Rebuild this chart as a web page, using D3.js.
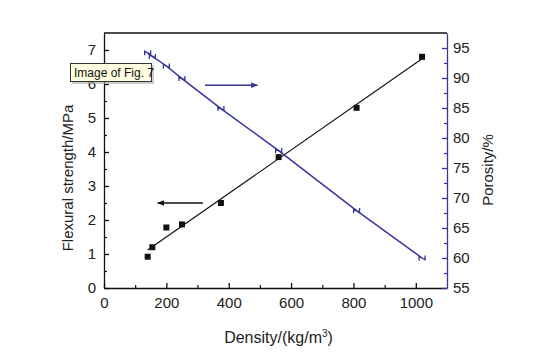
<!DOCTYPE html>
<html><head><meta charset="utf-8">
<script src="https://cdn.jsdelivr.net/npm/d3@7"></script>
<style>body{margin:0;background:#fff}svg{display:block;font-family:Arial,"Liberation Sans",sans-serif}</style>
</head><body><div id="chart"></div>
<script>
const density = [140, 155, 200, 250, 375, 560, 810, 1020];
const flexural = [0.92, 1.2, 1.78, 1.87, 2.5, 3.85, 5.3, 6.8];
const porosity = [94.2, 93.6, 92.0, 89.9, 84.9, 77.9, 67.9, 60.0];
const xTicks = [0, 200, 400, 600, 800, 1000];
const leftTicks = [0, 1, 2, 3, 4, 5, 6, 7];
const rightTicks = [55, 60, 65, 70, 75, 80, 85, 90, 95];

const W = 537, H = 355;
const m = {l: 104, r: 90, t: 33, b: 67};
const svg = d3.select("#chart").append("svg").attr("width", W).attr("height", H);
const x = d3.scaleLinear().domain([0, 1100]).range([m.l, W - m.r]);
const yL = d3.scaleLinear().domain([0, 7.5]).range([H - m.b, m.t]);
const yR = d3.scaleLinear().domain([55, 97.5]).range([H - m.b, m.t]);
const blue = "#35359a";

// frame top
svg.append("line").attr("x1", x(0)).attr("x2", x(1100)).attr("y1", m.t).attr("y2", m.t).attr("stroke", "#111").attr("stroke-width", 1.3);

function styleAxis(g, col) {
  g.selectAll("text").attr("fill", "#222").style("font-size", "15px");
  g.select(".domain").attr("stroke", col).attr("stroke-width", 1.3);
  g.selectAll(".tick line").attr("stroke", col).attr("stroke-width", 1.3);
}
function minor(axisFn, scale, vals, pos, col) {
  svg.append("g").attr("transform", pos).call(axisFn(scale).tickValues(vals).tickSize(-3).tickFormat(""))
    .call(g => { g.select(".domain").remove(); g.selectAll("line").attr("stroke", col).attr("stroke-width", 1.2); });
}
const bx = `translate(0,${H - m.b})`;
minor(d3.axisBottom, x, d3.range(100, 1100, 200), bx, "#111");
minor(d3.axisLeft, yL, d3.range(0.5, 7.5, 1), `translate(${m.l},0)`, "#111");
minor(d3.axisRight, yR, d3.range(57.5, 97.5, 5), `translate(${W - m.r},0)`, blue);

svg.append("g").attr("transform", bx)
  .call(d3.axisBottom(x).tickValues(xTicks).tickFormat(d3.format("d")).tickSize(-5).tickPadding(9).tickSizeOuter(0))
  .call(g => styleAxis(g, "#111"));
svg.append("g").attr("transform", `translate(${m.l},0)`)
  .call(d3.axisLeft(yL).tickValues(leftTicks).tickSize(-5).tickPadding(8).tickSizeOuter(0))
  .call(g => styleAxis(g, "#111"));
svg.append("g").attr("transform", `translate(${W - m.r},0)`)
  .call(d3.axisRight(yR).tickValues(rightTicks).tickSize(-5).tickPadding(6).tickSizeOuter(0))
  .call(g => styleAxis(g, blue));

// linear fit for flexural strength
const n = density.length;
const mx = d3.mean(density), my = d3.mean(flexural);
const slope = d3.sum(density, (d, i) => (d - mx) * (flexural[i] - my)) / d3.sum(density, d => (d - mx) ** 2);
const icpt = my - slope * mx;
const fitX = [density[0], density[n - 1]];
svg.append("path").attr("d", d3.line()(fitX.map(d => [x(d), yL(icpt + slope * d)])))
  .attr("stroke", "#111").attr("stroke-width", 1.2).attr("fill", "none");
svg.append("g").selectAll("rect").data(density).join("rect")
  .attr("x", d => x(d) - 3).attr("y", (d, i) => yL(flexural[i]) - 3)
  .attr("width", 6).attr("height", 6).attr("fill", "#111");

// porosity line
svg.append("path").attr("d", d3.line()(density.map((d, i) => [x(d), yR(porosity[i])])))
  .attr("stroke", blue).attr("stroke-width", 1.5).attr("fill", "none");
svg.append("g").selectAll("path").data(density).join("path")
  .attr("d", (d, i) => { const cx = x(d), cy = yR(porosity[i]);
    return `M${cx-3},${cy-2.5}L${cx-3},${cy+2.5}M${cx+3},${cy-2.5}L${cx+3},${cy+2.5}M${cx-3},${cy-1.5}L${cx+3},${cy+1.5}`; })
  .attr("stroke", blue).attr("stroke-width", 1.3).attr("fill", "none");

// arrows
const defs = svg.append("defs");
[["ab", "#111"], ["ar", blue]].forEach(([id, c]) => {
  defs.append("marker").attr("id", id).attr("viewBox", "0 0 10 10").attr("refX", 9).attr("refY", 5)
    .attr("markerWidth", 7).attr("markerHeight", 7).attr("markerUnits", "userSpaceOnUse").attr("orient", "auto")
    .append("path").attr("d", "M0,1L10,5L0,9Z").attr("fill", c);
});
svg.append("line").attr("x1", x(317)).attr("x2", x(172)).attr("y1", yL(2.5)).attr("y2", yL(2.5))
  .attr("stroke", "#111").attr("stroke-width", 1.4).attr("marker-end", "url(#ab)");
svg.append("line").attr("x1", x(324)).attr("x2", x(492)).attr("y1", yR(88.8)).attr("y2", yR(88.8))
  .attr("stroke", blue).attr("stroke-width", 1.4).attr("marker-end", "url(#ar)");

// axis titles
svg.append("text").attr("x", (m.l + W - m.r) / 2 + 3).attr("y", 343).attr("text-anchor", "middle")
  .style("font-size", "16px").attr("fill", "#222")
  .html('Density/(kg/m<tspan dy="-6" style="font-size:10px">3</tspan><tspan dy="6">)</tspan>');
svg.append("text").attr("transform", "translate(73,178) rotate(-90)").attr("text-anchor", "middle")
  .style("font-size", "15px").attr("fill", "#222").text("Flexural strength/MPa");
svg.append("text").attr("transform", "translate(493,170) rotate(-90)").attr("text-anchor", "middle")
  .style("font-size", "15px").attr("fill", "#222").text("Porosity/%");

// tooltip box
const tip = svg.append("g").attr("transform", "translate(70,63)");
tip.append("rect").attr("x", 2).attr("y", 2).attr("width", 82).attr("height", 19).attr("fill", "#aaa").attr("opacity", 0.6);
tip.append("rect").attr("x", 0.5).attr("y", 0.5).attr("width", 81).attr("height", 18).attr("fill", "#ffffe1").attr("stroke", "#333");
tip.append("text").attr("x", 4).attr("y", 14).style("font-size", "12px").attr("fill", "#111").text("Image of Fig. 7");
</script></body></html>
